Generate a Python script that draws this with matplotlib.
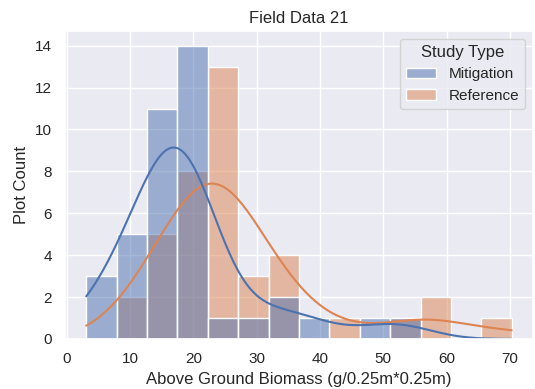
import matplotlib
matplotlib.use("Agg")
import matplotlib.pyplot as plt
import seaborn as sns
import pandas as pd

mitigation = [3.1, 5.2, 7.0,
              8.3, 9.5, 10.6, 11.6, 12.5,
              12.8, 13.2, 13.6, 14.0, 14.5, 15.0, 15.5, 16.0, 16.5, 17.0, 17.4,
              17.6, 17.9, 18.2, 18.5, 18.8, 19.1, 19.5, 19.9, 20.3, 20.7, 21.1, 21.5, 21.9, 22.2,
              26.0, 30.0, 33.5, 35.5, 40.0, 49.5, 54.0]
reference = [9.5, 12.0,
             13.2, 14.3, 15.4, 16.5, 17.3,
             17.7, 18.4, 19.1, 19.8, 20.5, 21.2, 21.8, 22.2,
             22.4, 22.8, 23.1, 23.5, 23.9, 24.3, 24.7, 25.1, 25.5, 25.9, 26.3, 26.7, 27.0,
             28.5, 30.0, 31.5,
             32.5, 33.8, 35.0, 36.2,
             44.0, 54.0, 57.0, 59.5, 70.3]

df = pd.DataFrame({
    "biomass": mitigation + reference,
    "Study Type": ["Mitigation"] * len(mitigation) + ["Reference"] * len(reference),
})

sns.set_theme()
plt.rcParams['font.family'] = ['Liberation Sans', 'DejaVu Sans']

W, H = 535, 389
fig = plt.figure(figsize=(W / 100, H / 100), dpi=100)
# axes placed in pixel terms; the right edge runs almost to the figure edge
ax = fig.add_axes([65 / W, (H - 339) / H, (533 - 65) / W, (339 - 31) / H])
sns.histplot(data=df, x="biomass", hue="Study Type", kde=True, bins=14, ax=ax)
sns.move_legend(ax, "upper right")

ax.set_title("Field Data 21")
ax.set_xlabel("Above Ground Biomass (g/0.25m*0.25m)")
ax.set_ylabel("Plot Count")
ax.set_xticks(range(0, 80, 10))
ax.set_yticks(range(0, 16, 2))

fig.savefig("out.png", dpi=100)
